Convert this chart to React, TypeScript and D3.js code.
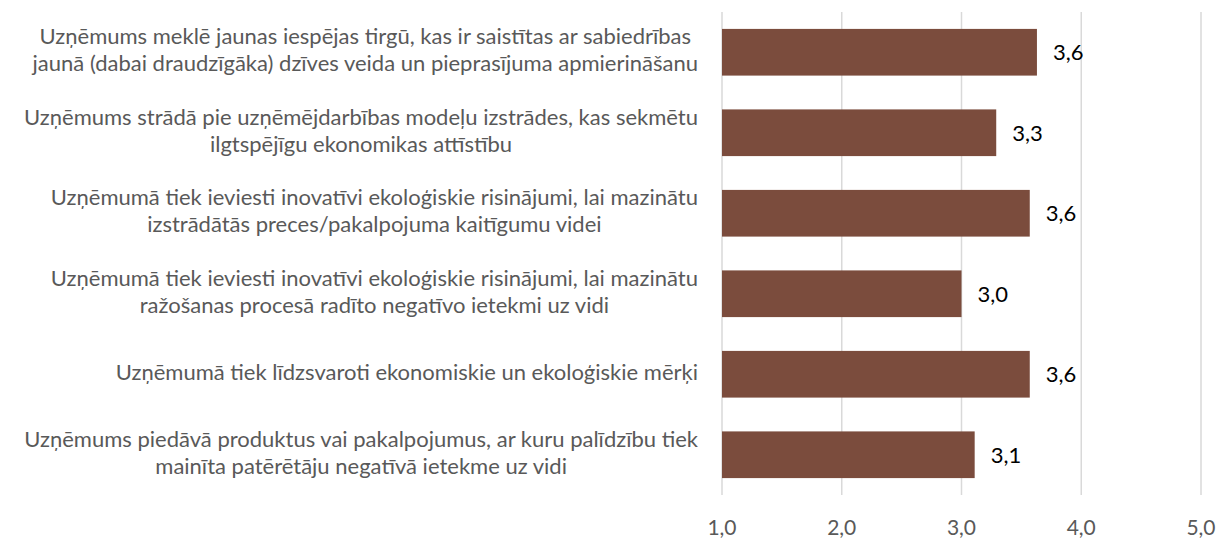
import React, { useEffect, useRef } from "react";
import * as d3 from "d3";

const categories: string[][] = [
  ["Uzņēmums meklē jaunas iespējas tirgū, kas ir saistītas ar sabiedrības", "jaunā (dabai draudzīgāka) dzīves veida un pieprasījuma apmierināšanu"],
  ["Uzņēmums strādā pie uzņēmējdarbības modeļu izstrādes, kas sekmētu", "ilgtspējīgu ekonomikas attīstību"],
  ["Uzņēmumā tiek ieviesti inovatīvi ekoloģiskie risinājumi, lai mazinātu", "izstrādātās preces/pakalpojuma kaitīgumu videi"],
  ["Uzņēmumā tiek ieviesti inovatīvi ekoloģiskie risinājumi, lai mazinātu", "ražošanas procesā radīto negatīvo ietekmi uz vidi"],
  ["Uzņēmumā tiek līdzsvaroti ekonomiskie un ekoloģiskie mērķi"],
  ["Uzņēmums piedāvā produktus vai pakalpojumus, ar kuru palīdzību tiek", "mainīta patērētāju negatīvā ietekme uz vidi"],
];
const values: number[] = [3.63, 3.29, 3.57, 3.0, 3.57, 3.11];
const ticks: number[] = [1, 2, 3, 4, 5];

const W = 1218;
const H = 538;
const FONT = "Lato, 'Open Sans', sans-serif";

export default function App() {
  const ref = useRef<SVGSVGElement>(null);
  useEffect(() => {
    const svg = d3.select(ref.current);
    svg.selectAll("*").remove();
    const x = d3.scaleLinear().domain([1, 5]).range([722, 1201]);
    const y = d3
      .scaleBand<number>()
      .domain(d3.range(values.length))
      .range([12, 495])
      .paddingInner(0.42)
      .paddingOuter(0.21);

    // gridlines
    svg
      .append("g")
      .selectAll("line")
      .data(ticks)
      .join("line")
      .attr("x1", (d) => x(d))
      .attr("x2", (d) => x(d))
      .attr("y1", 12)
      .attr("y2", 495)
      .attr("stroke", "#d9d9d9")
      .attr("stroke-width", 1.5);

    // bars
    svg
      .append("g")
      .selectAll("rect")
      .data(values)
      .join("rect")
      .attr("x", x(1))
      .attr("y", (_, i) => y(i)!)
      .attr("width", (d) => x(d) - x(1))
      .attr("height", y.bandwidth())
      .attr("fill", "#7b4c3d");

    // value labels
    svg
      .append("g")
      .selectAll("text")
      .data(values)
      .join("text")
      .attr("x", (d) => x(d) + 16)
      .attr("y", (_, i) => y(i)! + y.bandwidth() / 2 + 0.5)
      .attr("dy", "0.35em")
      .attr("font-family", FONT)
      .attr("font-size", 22)
      .attr("fill", "#000")
      .text((d) => d.toFixed(1).replace(".", ","));

    // tick labels
    svg
      .append("g")
      .selectAll("text")
      .data(ticks)
      .join("text")
      .attr("x", (d) => x(d))
      .attr("y", 528)
      .attr("dy", "0.35em")
      .attr("text-anchor", "middle")
      .attr("font-family", FONT)
      .attr("font-size", 21)
      .attr("fill", "#595959")
      .text((d) => d.toFixed(1).replace(".", ","));

    // category labels
    const lineH = 27;
    const g = svg.append("g");
    categories.forEach((lines, i) => {
      const cy = y(i)! + y.bandwidth() / 2 - 2;
      const t = g
        .append("text")
        .attr("font-family", FONT)
        .attr("font-size", 22)
        .attr("fill", "#595959")
        .attr("text-anchor", "middle");
      const spans = lines.map((ln, j) =>
        t
          .append("tspan")
          .attr("x", 0)
          .attr("y", cy + (j - (lines.length - 1) / 2) * lineH)
          .attr("dy", "0.35em")
          .text(ln)
      );
      const widths = spans.map((s) => (s.node() as SVGTSpanElement).getComputedTextLength());
      const maxW = Math.max(...widths);
      const cx = 698 - maxW / 2;
      spans.forEach((s) => s.attr("x", cx));
    });
  }, []);
  return (
    <svg
      ref={ref}
      width={W}
      height={H}
      style={{ position: "absolute", left: 0, top: 0, background: "#fff" }}
    />
  );
}
